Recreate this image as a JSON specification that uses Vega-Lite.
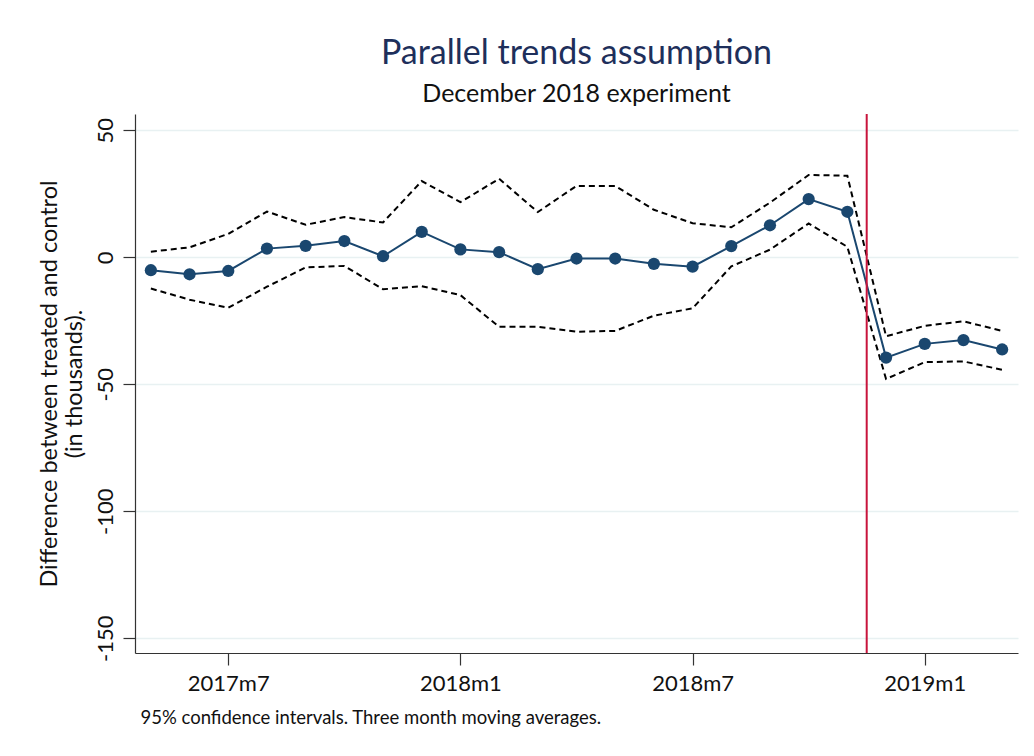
{
  "$schema": "https://vega.github.io/schema/vega-lite/v6.json",
  "autosize": "none",
  "width": 883,
  "height": 539,
  "padding": {"left": 135, "top": 114, "right": 16, "bottom": 103},
  "background": "white",
  "config": {"view": {"stroke": null}, "font": "Lato"},
  "title": {
    "text": "Parallel trends assumption",
    "subtitle": "December 2018 experiment",
    "anchor": "middle",
    "font": "Lato",
    "fontSize": 34,
    "fontWeight": "normal",
    "color": "#1e2f5b",
    "subtitleFont": "Lato",
    "subtitleFontSize": 25,
    "subtitleColor": "#111111",
    "subtitlePadding": 11,
    "offset": 6
  },
  "datasets": {
    "series": [
      {"t": 688, "est": -5.1, "lo": -12.3, "hi": 2.2},
      {"t": 689, "est": -6.7, "lo": -16.7, "hi": 3.9},
      {"t": 690, "est": -5.4, "lo": -19.9, "hi": 9.2},
      {"t": 691, "est": 3.4, "lo": -11.6, "hi": 18.0},
      {"t": 692, "est": 4.5, "lo": -4.0, "hi": 12.8},
      {"t": 693, "est": 6.4, "lo": -3.4, "hi": 15.8},
      {"t": 694, "est": 0.4, "lo": -12.6, "hi": 13.7},
      {"t": 695, "est": 10.0, "lo": -11.4, "hi": 30.0},
      {"t": 696, "est": 3.1, "lo": -14.9, "hi": 21.7},
      {"t": 697, "est": 2.0, "lo": -27.4, "hi": 30.9},
      {"t": 698, "est": -4.7, "lo": -27.4, "hi": 17.8},
      {"t": 699, "est": -0.5, "lo": -29.3, "hi": 28.1},
      {"t": 700, "est": -0.5, "lo": -29.0, "hi": 28.1},
      {"t": 701, "est": -2.6, "lo": -23.0, "hi": 18.7},
      {"t": 702, "est": -3.7, "lo": -20.1, "hi": 13.4},
      {"t": 703, "est": 4.4, "lo": -3.6, "hi": 11.8},
      {"t": 704, "est": 12.6, "lo": 3.0, "hi": 21.5},
      {"t": 705, "est": 22.9, "lo": 13.3, "hi": 32.4},
      {"t": 706, "est": 17.9, "lo": 4.1, "hi": 32.1},
      {"t": 707, "est": -39.5, "lo": -47.9, "hi": -31.1},
      {"t": 708, "est": -34.1, "lo": -41.3, "hi": -27.0},
      {"t": 709, "est": -32.6, "lo": -41.0, "hi": -25.2},
      {"t": 710, "est": -36.3, "lo": -44.3, "hi": -29.0}
    ],
    "event": [{"t": 706.5}]
  },
  "data": {"name": "series"},
  "encoding": {
    "x": {
      "field": "t",
      "type": "quantitative",
      "scale": {"domain": [687.59, 710.41], "nice": false, "zero": false},
      "axis": {
        "values": [690, 696, 702, 708],
        "labelExpr": "floor(datum.value / 12) + 1960 + 'm' + (datum.value % 12 + 1)",
        "grid": false,
        "domainColor": "#333333",
        "domainWidth": 1.2,
        "tickColor": "#333333",
        "tickSize": 12,
        "tickWidth": 1.2,
        "labelFont": "Lato",
        "labelFontSize": 22,
        "labelColor": "#111111",
        "labelPadding": 8,
        "title": "95% confidence intervals. Three month moving averages.",
        "titleFont": "Lato",
        "titleFontSize": 18.5,
        "titleFontWeight": "normal",
        "titleColor": "#111111",
        "titleAnchor": "start",
        "titleAlign": "left",
        "titleBaseline": "middle",
        "titleX": 5,
        "titleY": 64
      }
    }
  },
  "layer": [
    {
      "mark": {"type": "line", "color": "#000000", "strokeWidth": 2, "strokeDash": [6, 4]},
      "encoding": {
        "y": {
          "field": "hi",
          "type": "quantitative",
          "scale": {"domain": [-155.8, 56.4], "nice": false, "zero": false},
          "axis": {
            "values": [50, 0, -50, -100, -150],
            "labelExpr": "datum.value < 0 ? '-' + abs(datum.value) : '' + datum.value",
            "grid": true,
            "gridColor": "#e8f1f2",
            "gridWidth": 1.5,
            "domainColor": "#333333",
            "domainWidth": 1.2,
            "tickColor": "#333333",
            "tickSize": 12,
            "tickWidth": 1.2,
            "labelAngle": -90,
            "labelFont": "Lato",
            "labelFontSize": 22,
            "labelColor": "#111111",
            "labelPadding": 6,
            "title": ["Difference between treated and control", "(in thousands)."],
            "titleFont": "Lato",
            "titleFontSize": 23.5,
            "titleFontWeight": "normal",
            "titleColor": "#111111",
            "titleLineHeight": 25,
            "titlePadding": 8
          }
        }
      }
    },
    {
      "mark": {"type": "line", "color": "#000000", "strokeWidth": 2, "strokeDash": [6, 4]},
      "encoding": {"y": {"field": "lo", "type": "quantitative"}}
    },
    {
      "mark": {"type": "line", "color": "#1a476f", "strokeWidth": 2},
      "encoding": {"y": {"field": "est", "type": "quantitative"}}
    },
    {
      "mark": {"type": "point", "filled": true, "color": "#1a476f", "opacity": 1, "size": 150},
      "encoding": {"y": {"field": "est", "type": "quantitative"}}
    },
    {
      "data": {"name": "event"},
      "mark": {"type": "rule", "color": "#c8143c", "strokeWidth": 2},
      "encoding": {"x": {"field": "t", "type": "quantitative"}}
    }
  ]
}
